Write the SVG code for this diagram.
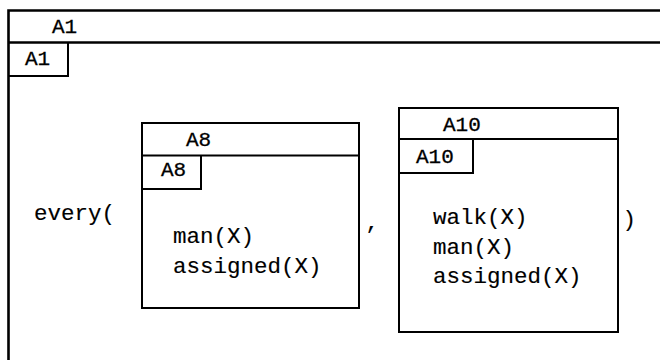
<svg xmlns="http://www.w3.org/2000/svg" width="660" height="360" viewBox="0 0 660 360">
<style>
.ln{fill:none;stroke:#000;stroke-width:2}
.t{font-family:"Liberation Mono","DejaVu Sans Mono",monospace;font-size:22.5px;fill:#000;stroke:#000;stroke-width:0.15}
.lb{font-family:"Liberation Mono","DejaVu Sans Mono",monospace;font-size:21px;fill:#000;stroke:#000;stroke-width:0.3}
</style>
<rect width="660" height="360" fill="#fff"/>
<g id="A1">
<path class="ln" d="M8.5,360 V10.5 H660" style="stroke-width:2.6"/>
<path class="ln" d="M8.5,42.5 H660" style="stroke-width:2.6"/>
<path class="ln" d="M68,42.5 V76 H8.5"/>
<text class="lb" x="52" y="32.5">A1</text>
<text class="lb" x="25" y="65">A1</text>
<text class="t" x="34" y="220">every(</text>
<text class="t" x="365.5" y="229">,</text>
<text class="t" x="622.5" y="226">)</text>
</g>
<g id="A8">
<rect class="ln" x="142" y="123" width="217" height="185"/>
<path class="ln" d="M142,155.5 H359"/>
<path class="ln" d="M201,155.5 V189 H142"/>
<text class="lb" x="186" y="145.5">A8</text>
<text class="lb" x="161" y="175.5">A8</text>
<text class="t" x="173" y="243">man(X)</text>
<text class="t" x="173" y="273">assigned(X)</text>
</g>
<g id="A10">
<rect class="ln" x="399" y="108" width="219" height="224"/>
<path class="ln" d="M399,139 H618"/>
<path class="ln" d="M473,139 V173 H399"/>
<text class="lb" x="443" y="131">A10</text>
<text class="lb" x="416" y="163">A10</text>
<text class="t" x="433" y="224">walk(X)</text>
<text class="t" x="433" y="254">man(X)</text>
<text class="t" x="433" y="283">assigned(X)</text>
</g>
</svg>
